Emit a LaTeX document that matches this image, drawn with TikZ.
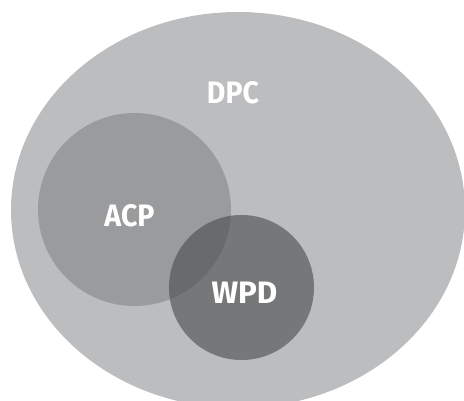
\documentclass[tikz,border=0pt]{standalone}
\usepackage{fontspec}
\setmainfont{Fira Sans}
\usetikzlibrary{shapes.geometric}
\definecolor{dpcfill}{RGB}{188,189,191}
\definecolor{acpfill}{RGB}{154,155,157}
\definecolor{wpdfill}{RGB}{76,77,79}
\tikzset{
  setbox/.style={draw=none, inner sep=0pt, outer sep=0pt},
  lbl/.style={text=white, inner sep=0pt, font=\fontsize{31}{31}\selectfont\bfseries, xscale=0.92}
}
\begin{document}
\begin{tikzpicture}[x=1pt,y=-1pt]
\useasboundingbox (0,0) rectangle (464,400);
\begin{scope}
\clip (0,0) rectangle (464,400);
\node[setbox, ellipse, fill=dpcfill, minimum width=454pt, minimum height=396pt] (dpc) at (238,210) {};
\end{scope}
\node[setbox, circle, fill=acpfill, minimum size=193pt] (acp) at (134.5,209.5) {};
\node[setbox, circle, fill=wpdfill, fill opacity=0.62, minimum size=145pt] (wpd) at (241.5,287.5) {};
\node[lbl] (dpct) at (233,93) {DPC};
\node[lbl] (acpt) at (129.5,215.5) {ACP};
\node[lbl, xscale=1.1] (wpdt) at (244.5,293) {WPD};
\end{tikzpicture}
\end{document}
